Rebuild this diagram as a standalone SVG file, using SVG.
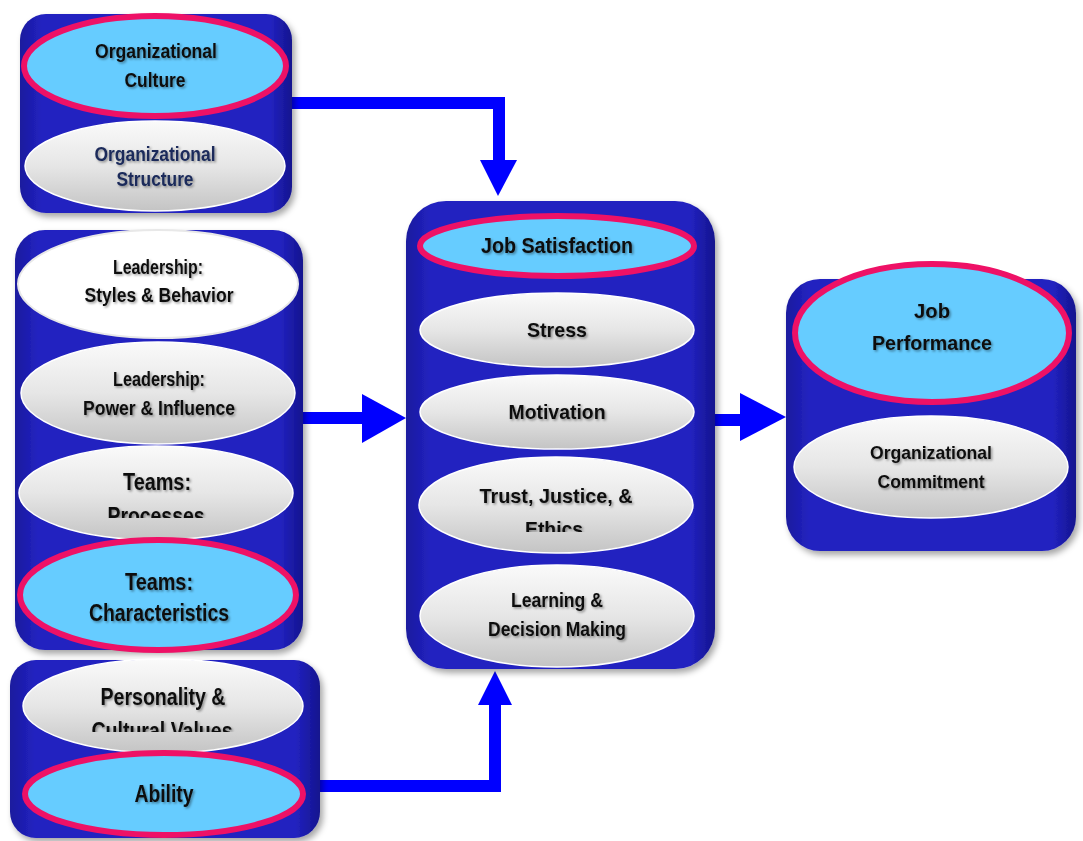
<svg xmlns="http://www.w3.org/2000/svg" width="1083" height="841" viewBox="0 0 1083 841">
<defs>
<linearGradient id="boxg" x1="0" y1="0" x2="1" y2="0">
<stop offset="0" stop-color="#1a1a9e"/><stop offset="0.08" stop-color="#2222c0"/><stop offset="0.92" stop-color="#2222c0"/><stop offset="1" stop-color="#14148e"/>
</linearGradient>
<linearGradient id="grayg" x1="0" y1="0" x2="0" y2="1">
<stop offset="0" stop-color="#fafafa"/><stop offset="0.5" stop-color="#e6e6e6"/><stop offset="1" stop-color="#c4c4c4"/>
</linearGradient>
<filter id="sh" x="-10%" y="-10%" width="125%" height="125%">
<feDropShadow dx="3" dy="4" stdDeviation="3" flood-color="#000" flood-opacity="0.35"/>
</filter>
<filter id="tsh" x="-10%" y="-20%" width="130%" height="160%">
<feDropShadow dx="1.5" dy="1.5" stdDeviation="1" flood-color="#000" flood-opacity="0.4"/>
</filter>
<clipPath id="c1"><rect x="0" y="0" width="1083" height="518"/></clipPath>
<clipPath id="c2"><rect x="0" y="0" width="1083" height="732"/></clipPath>
<clipPath id="c3"><rect x="0" y="0" width="1083" height="532"/></clipPath>
</defs>
<style>
.box{fill:url(#boxg);filter:url(#sh)}
.pk{fill:#66ccff;stroke:#ee1166;stroke-width:6}
.gr{fill:url(#grayg);stroke:#ffffff;stroke-width:1.5}
.wh{fill:#ffffff;stroke:#e8e8e8;stroke-width:2}
text{font-family:"Liberation Sans",Arial,sans-serif;font-weight:bold;fill:#111;text-anchor:middle;filter:url(#tsh)}
.nv{fill:#1a2a5a}
.conn{fill:none;stroke:#0000ff;stroke-width:12}
</style>
<rect width="1083" height="841" fill="#ffffff"/>

<g id="connectors">
<path class="conn" d="M292,103 H499 V160"/>
<path d="M480,160 L517,160 L498,196 z" fill="#0000ff"/>
<path class="conn" d="M303,418 H364"/>
<path d="M362,394 L406,418 L362,443 z" fill="#0000ff"/>
<path class="conn" d="M715,420 H742"/>
<path d="M740,393 L786,417 L740,441 z" fill="#0000ff"/>
<path class="conn" d="M320,786 H495 V703"/>
<path d="M478,705 L512,705 L495,671 z" fill="#0000ff"/>
</g>

<g id="org">
<rect class="box" x="20" y="14" width="272" height="199" rx="26"/>
<ellipse class="pk" cx="155" cy="66" rx="131" ry="50"/>
<text x="156" y="58" font-size="20" textLength="122" lengthAdjust="spacingAndGlyphs">Organizational</text>
<text x="155" y="87" font-size="20" textLength="61" lengthAdjust="spacingAndGlyphs">Culture</text>
<ellipse class="gr" cx="155" cy="166" rx="130" ry="45"/>
<text class="nv" x="155" y="161" font-size="20" textLength="121" lengthAdjust="spacingAndGlyphs">Organizational</text>
<text class="nv" x="155" y="186" font-size="20" textLength="77" lengthAdjust="spacingAndGlyphs">Structure</text>
</g>

<g id="group">
<rect class="box" x="15" y="230" width="288" height="420" rx="30"/>
<ellipse class="wh" cx="158" cy="284" rx="140" ry="54"/>
<text x="158" y="274" font-size="20" textLength="90" lengthAdjust="spacingAndGlyphs">Leadership:</text>
<text x="159" y="302" font-size="20" textLength="149" lengthAdjust="spacingAndGlyphs">Styles &amp; Behavior</text>
<ellipse class="gr" cx="158" cy="393" rx="137" ry="51"/>
<text x="159" y="386" font-size="20" textLength="92" lengthAdjust="spacingAndGlyphs">Leadership:</text>
<text x="159" y="415" font-size="20" textLength="152" lengthAdjust="spacingAndGlyphs">Power &amp; Influence</text>
<ellipse class="gr" cx="156" cy="493" rx="137" ry="47"/>
<text x="157" y="490" font-size="23" textLength="68" lengthAdjust="spacingAndGlyphs">Teams:</text>
<g clip-path="url(#c1)"><text x="156" y="524" font-size="23" textLength="97" lengthAdjust="spacingAndGlyphs">Processes</text></g>
<ellipse class="pk" cx="158" cy="595" rx="138" ry="55"/>
<text x="159" y="590" font-size="23" textLength="68" lengthAdjust="spacingAndGlyphs">Teams:</text>
<text x="159" y="621" font-size="23" textLength="140" lengthAdjust="spacingAndGlyphs">Characteristics</text>
</g>

<g id="individual">
<rect class="box" x="10" y="660" width="310" height="178" rx="26"/>
<ellipse class="gr" cx="163" cy="706" rx="140" ry="47"/>
<text x="163" y="705" font-size="23" textLength="125" lengthAdjust="spacingAndGlyphs">Personality &amp;</text>
<g clip-path="url(#c2)"><text x="162" y="739" font-size="23" textLength="141" lengthAdjust="spacingAndGlyphs">Cultural Values</text></g>
<ellipse class="pk" cx="164" cy="794" rx="139" ry="41"/>
<text x="164" y="802" font-size="23" textLength="59" lengthAdjust="spacingAndGlyphs">Ability</text>
</g>

<g id="mechanisms">
<rect class="box" x="406" y="201" width="309" height="468" rx="40"/>
<ellipse class="pk" cx="557" cy="246" rx="137" ry="30"/>
<text x="557" y="253" font-size="22" textLength="152" lengthAdjust="spacingAndGlyphs">Job Satisfaction</text>
<ellipse class="gr" cx="557" cy="330" rx="137" ry="37"/>
<text x="557" y="337" font-size="21" textLength="60" lengthAdjust="spacingAndGlyphs">Stress</text>
<ellipse class="gr" cx="557" cy="412" rx="137" ry="37"/>
<text x="557" y="419" font-size="21" textLength="97" lengthAdjust="spacingAndGlyphs">Motivation</text>
<ellipse class="gr" cx="556" cy="505" rx="137" ry="48"/>
<text x="556" y="503" font-size="21" textLength="153" lengthAdjust="spacingAndGlyphs">Trust, Justice, &amp;</text>
<g clip-path="url(#c3)"><text x="554" y="536" font-size="21" textLength="58" lengthAdjust="spacingAndGlyphs">Ethics</text></g>
<ellipse class="gr" cx="557" cy="616" rx="137" ry="51"/>
<text x="557" y="607" font-size="20" textLength="92" lengthAdjust="spacingAndGlyphs">Learning &amp;</text>
<text x="557" y="636" font-size="20" textLength="138" lengthAdjust="spacingAndGlyphs">Decision Making</text>
</g>

<g id="outcomes">
<rect class="box" x="786" y="279" width="290" height="272" rx="34"/>
<ellipse class="pk" cx="932" cy="333" rx="137" ry="69"/>
<text x="932" y="318" font-size="21" textLength="36" lengthAdjust="spacingAndGlyphs">Job</text>
<text x="932" y="350" font-size="21" textLength="120" lengthAdjust="spacingAndGlyphs">Performance</text>
<ellipse class="gr" cx="931" cy="467" rx="137" ry="51"/>
<text x="931" y="459" font-size="19" textLength="122" lengthAdjust="spacingAndGlyphs">Organizational</text>
<text x="931" y="488" font-size="19" textLength="107" lengthAdjust="spacingAndGlyphs">Commitment</text>
</g>
</svg>
